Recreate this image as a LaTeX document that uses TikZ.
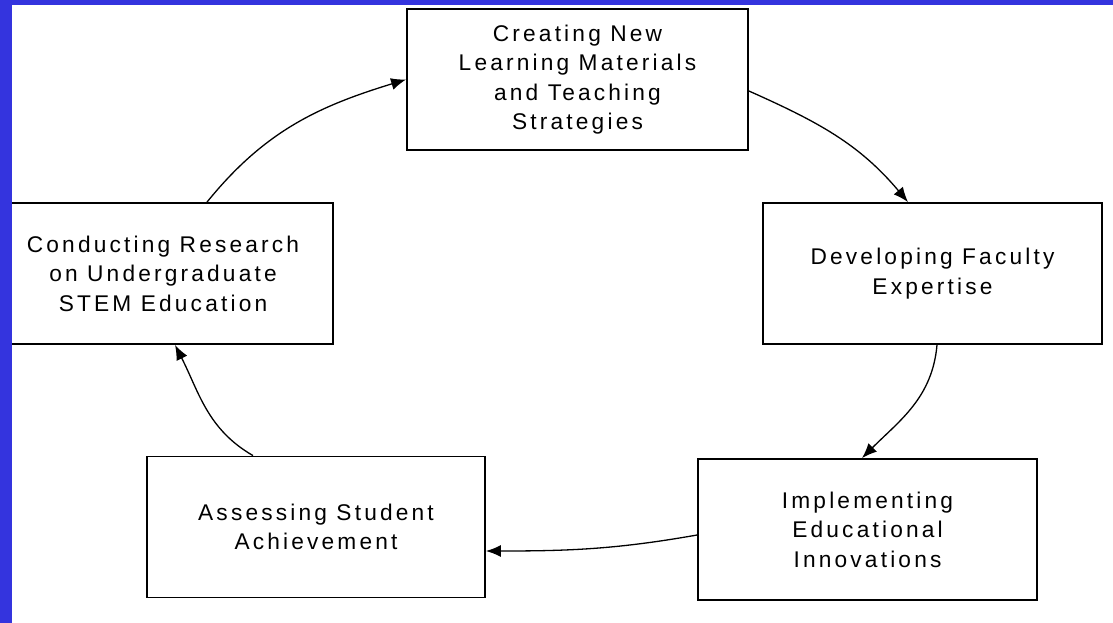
\documentclass[tikz,border=0pt]{standalone}
\usepackage{fontspec}
\usetikzlibrary{arrows.meta}
\newfontfamily\boxfont[LetterSpace=14]{Liberation Sans}
\definecolor{frame}{RGB}{52, 52, 222}

\begin{document}
\begin{tikzpicture}[box/.style={rectangle, draw=black, line width=1.8pt, minimum height=141pt, align=center, inner sep=0pt, font=\boxfont\fontsize{22.7pt}{29.5pt}\selectfont},
link/.style={line width=1.3pt, color=black, -{Latex[length=15pt, width=12pt]}}]
\useasboundingbox (0pt, 0pt) rectangle (1113pt, -623pt);
\node (1) [box, minimum width=341pt] at (577.5pt, -79.5pt) {Creating New\\Learning Materials\\and Teaching\\Strategies};
\node (2) [box, minimum width=339pt] at (932.5pt, -273.5pt) {Developing Faculty\\Expertise};
\node (3) [box, minimum width=339pt] at (867.5pt, -529.5pt) {Implementing\\Educational\\Innovations};
\node (4) [box, minimum width=338pt] at (316.0pt, -527.0pt) {Assessing Student\\Achievement};
\node (5) [box, minimum width=340pt] at (163.0pt, -273.5pt) {Conducting Research\\on Undergraduate\\STEM Education};
\draw [link] ([xshift=44pt]5.north) to[out=51, in=197] (1.west);
\draw [link] ([yshift=-11.5pt]1.east) to[out=-24, in=130] ([xshift=-24.5pt]2.north);
\draw [link] ([xshift=4.5pt]2.south) to[out=-95, in=45] ([xshift=-5.5pt]3.north);
\draw [link] ([yshift=-5.5pt]3.west) to[out=190, in=0] ([yshift=-24pt]4.east);
\draw [link] ([xshift=-63pt]4.north) to[out=150, in=-63] ([xshift=12pt]5.south);
% blue frame
\fill [frame] (0pt, 0pt) rectangle (12pt, -623pt);
\fill [frame] (0pt, 0pt) rectangle (1113pt, -5pt);
\end{tikzpicture}
\end{document}
